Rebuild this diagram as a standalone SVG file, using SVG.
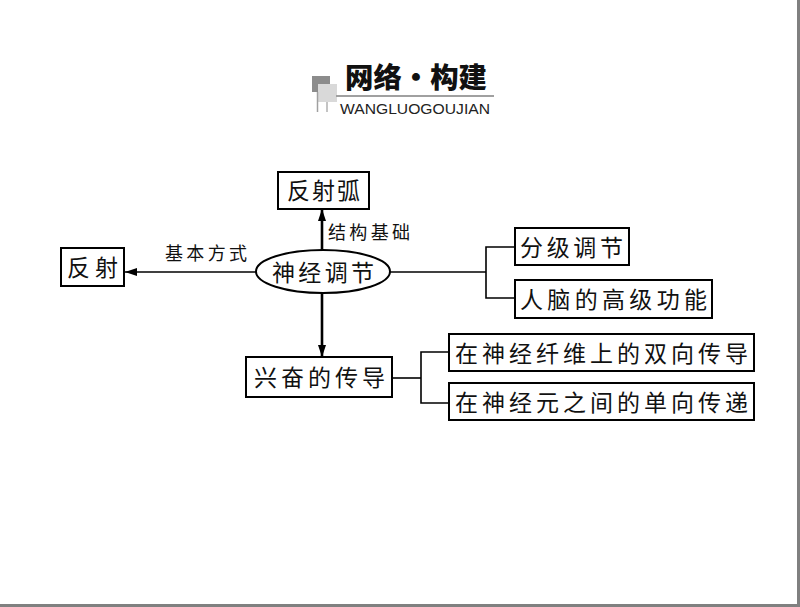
<svg xmlns="http://www.w3.org/2000/svg" width="800" height="607" viewBox="0 0 800 607">
<style>
.box{fill:#fff;stroke:#000;stroke-width:2}
.t{font-family:"Noto Sans CJK SC","Noto Sans",sans-serif;font-size:23px;fill:#111}
.lab{font-family:"Noto Sans CJK SC","Noto Sans",sans-serif;font-size:18px;fill:#111}
.ln{fill:none;stroke:#000;stroke-width:1.6}
.thick{fill:none;stroke:#000;stroke-width:2.6}
</style>
<defs>
<marker id="ah" viewBox="0 0 12 8" refX="12" refY="4" markerWidth="12" markerHeight="8" markerUnits="userSpaceOnUse" orient="auto">
<path d="M0,0 L12,4 L0,8 Z" fill="#000"/>
</marker>
</defs>
<rect x="0" y="0" width="800" height="607" fill="#fff"/>
<rect x="797" y="0" width="3" height="607" fill="#808080"/>
<rect x="0" y="604" width="800" height="3" fill="#808080"/>
<g id="header">
<rect x="312" y="76" width="18" height="16" fill="#8c8c8c"/>
<rect x="318" y="84" width="19" height="18" fill="#d9d9d9"/>
<line x1="317.5" y1="92" x2="317.5" y2="112" stroke="#a0a0a0" stroke-width="1.5"/>
<line x1="327" y1="102" x2="327" y2="112" stroke="#b0b0b0" stroke-width="1.5"/>
<line x1="336" y1="96" x2="494" y2="96" stroke="#a0a0a0" stroke-width="2"/>
<text x="345" y="88" font-family="Noto Sans CJK SC,sans-serif" font-size="28" font-weight="900" fill="#111" textLength="142" lengthAdjust="spacingAndGlyphs">网络·构建</text>
<text x="340" y="114" font-family="Liberation Sans,Arial,sans-serif" font-size="15" fill="#222" textLength="150" lengthAdjust="spacingAndGlyphs">WANGLUOGOUJIAN</text>
</g>
<g id="connectors">
<line class="thick" x1="322" y1="250" x2="322" y2="209" marker-end="url(#ah)"/>
<line class="ln" x1="256" y1="272" x2="125" y2="272" marker-end="url(#ah)"/>
<line class="thick" x1="322" y1="293" x2="322" y2="357" marker-end="url(#ah)"/>
<polyline class="ln" points="390,272 486,272"/>
<polyline class="ln" points="515,247 486,247 486,298 515,298"/>
<polyline class="ln" points="393,378 421,378"/>
<polyline class="ln" points="449,352 421,352 421,403 449,403"/>
<text class="lab" x="328" y="239" textLength="82" lengthAdjust="spacing">结构基础</text>
<text class="lab" x="165" y="260" textLength="82" lengthAdjust="spacing">基本方式</text>
</g>
<g id="n-reflexarc">
<rect class="box" x="278" y="172" width="91" height="37"/>
<text class="t" x="287" y="199" textLength="73" lengthAdjust="spacing">反射弧</text>
</g>
<g id="n-reflex">
<rect class="box" x="61" y="248" width="63" height="38"/>
<text class="t" x="67" y="276" textLength="51" lengthAdjust="spacing">反射</text>
</g>
<g id="n-neural">
<ellipse cx="323" cy="271.5" rx="67" ry="21.5" fill="#fff" stroke="#000" stroke-width="2"/>
<text class="t" x="272" y="281" textLength="102" lengthAdjust="spacing">神经调节</text>
</g>
<g id="n-hier">
<rect class="box" x="515" y="228" width="114" height="37"/>
<text class="t" x="520" y="256" textLength="103" lengthAdjust="spacing">分级调节</text>
</g>
<g id="n-brain">
<rect class="box" x="515" y="280" width="197" height="38"/>
<text class="t" x="520" y="308" textLength="187" lengthAdjust="spacing">人脑的高级功能</text>
</g>
<g id="n-excite">
<rect class="box" x="246" y="357" width="146" height="40"/>
<text class="t" x="254" y="386" textLength="131" lengthAdjust="spacing">兴奋的传导</text>
</g>
<g id="n-fiber">
<rect class="box" x="449" y="334" width="305" height="37"/>
<text class="t" x="455" y="362" textLength="293" lengthAdjust="spacing">在神经纤维上的双向传导</text>
</g>
<g id="n-neuron">
<rect class="box" x="449" y="383" width="305" height="37"/>
<text class="t" x="455" y="411" textLength="293" lengthAdjust="spacing">在神经元之间的单向传递</text>
</g>
</svg>
